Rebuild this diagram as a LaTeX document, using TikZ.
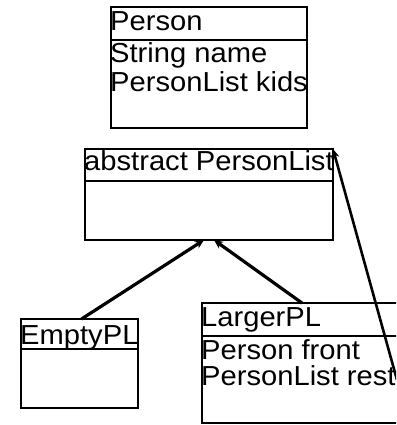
\documentclass[tikz,border=0pt]{standalone}
\usepackage{fontspec}
\setmainfont{Liberation Sans}[FakeStretch=1.06]
\usetikzlibrary{arrows.meta}
\begin{document}
\begin{tikzpicture}[x=1pt,y=-1pt,
  box/.style={draw,line width=2.6pt,rectangle,inner sep=0pt,outer sep=0pt,anchor=north west},
  lbl/.style={anchor=base west,inner sep=0pt,font=\fontsize{27.5}{30}\selectfont},
  divider/.style={line width=2.6pt},
  inh/.style={line width=3.2pt,-{Stealth[length=9pt,width=8pt]}},
  assoc/.style={line width=2.6pt,-{Stealth[length=9pt,width=8pt]}}]
\clip (0,0) rectangle (396,425);
\fill[white] (0,0) rectangle (396,425);
% Person
\node[box,minimum width=196pt,minimum height=121pt] (person) at (111,7) {};
\draw[divider] (111,40) -- (307,40);
\node[lbl] (pname) at (110,31) {Person};
\node[lbl] (pf1) at (110,63) {String name};
\node[lbl] (pf2) at (110,92) {PersonList kids};
% abstract PersonList
\node[box,minimum width=248pt,minimum height=91pt] (plist) at (85,149) {};
\draw[divider] (85,181) -- (333,181);
\node[lbl] (plname) at (84,170) {abstract PersonList};
% EmptyPL
\node[box,minimum width=117pt,minimum height=89pt] (empty) at (21,319) {};
\draw[divider] (21,349) -- (138,349);
\node[lbl] (ename) at (20,344) {EmptyPL};
% LargerPL
\node[box,minimum width=210pt,minimum height=120pt] (larger) at (202,303) {};
\draw[divider] (202,336) -- (412,336);
\node[lbl] (lname) at (201,326) {LargerPL};
\node[lbl] (lf1) at (201,359) {Person front};
\node[lbl] (lf2) at (201,385) {PersonList rest};
% connectors
\draw[inh] ([xshift=2pt]empty.north) -- ([xshift=-5pt]plist.south);
\draw[inh] ([xshift=100pt]larger.north west) -- ([xshift=5pt]plist.south);
\coordinate (restend) at (397,380);
\draw[assoc] (restend) -- (plist.north east);
\end{tikzpicture}
\end{document}
